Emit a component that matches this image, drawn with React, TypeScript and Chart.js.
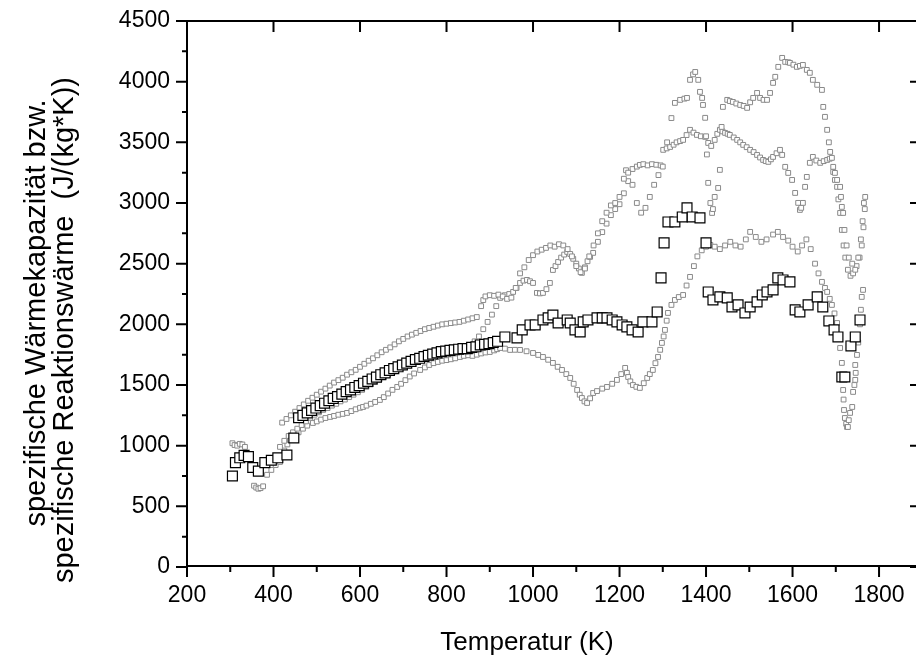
import React, { useEffect, useRef } from "react";
import { Chart, registerables } from "chart.js";

Chart.register(...registerables);

// ---------- tick labels ----------
const xTickValues = [200, 400, 600, 800, 1000, 1200, 1400, 1600, 1800];
const yTickValues = [0, 500, 1000, 1500, 2000, 2500, 3000, 3500, 4000, 4500];
const xTitle = "Temperatur (K)";
const yTitleLines = ["spezifische Wärmekapazität bzw.", "spezifische Reaktionswärme  (J/(kg*K))"];

// ---------- series: large open squares (black) ----------
const blackSeries: [number, number][] = [
  [305, 750], [312, 860], [322, 900], [332, 920], [342, 910], [352, 820], [365, 790], [380, 860],
  [395, 880], [410, 900], [431, 923], [447, 1063], [458, 1230], [468, 1250], [478, 1270], [488, 1290],
  [498, 1310], [508, 1330], [518, 1350], [528, 1370], [538, 1390], [548, 1405], [558, 1425], [568, 1445],
  [578, 1460], [588, 1480], [598, 1495], [608, 1515], [618, 1530], [628, 1550], [638, 1565], [648, 1585],
  [658, 1600], [668, 1620], [678, 1635], [688, 1650], [698, 1665], [708, 1680], [718, 1695], [728, 1710],
  [738, 1720], [748, 1735], [758, 1745], [768, 1755], [778, 1765], [788, 1775], [798, 1780], [808, 1785],
  [818, 1790], [828, 1795], [838, 1800], [848, 1800], [858, 1810], [868, 1815], [878, 1830], [888, 1835],
  [898, 1840], [908, 1850], [918, 1860], [935, 1896], [963, 1888], [975, 1954], [993, 1995], [1005, 1995],
  [1023, 2036], [1035, 2053], [1046, 2077], [1058, 2011], [1079, 2036], [1086, 2011], [1097, 1954], [1109, 1937],
  [1116, 2020], [1127, 2036], [1148, 2053], [1160, 2053], [1171, 2053], [1183, 2036], [1194, 2020], [1206, 1995],
  [1217, 1979], [1229, 1954], [1243, 1937], [1254, 2020], [1275, 2020], [1287, 2102], [1296, 2383], [1303, 2671],
  [1312, 2844], [1328, 2844], [1345, 2885], [1356, 2960], [1368, 2885], [1386, 2877], [1400, 2671], [1405, 2267],
  [1416, 2201], [1432, 2226], [1449, 2218], [1460, 2143], [1474, 2160], [1490, 2094], [1502, 2143], [1518, 2185],
  [1530, 2242], [1541, 2267], [1555, 2284], [1566, 2383], [1578, 2366], [1594, 2350], [1606, 2119], [1617, 2102],
  [1636, 2160], [1657, 2226], [1670, 2143], [1684, 2028], [1696, 1954], [1705, 1896], [1714, 1566], [1721, 1566],
  [1735, 1822], [1745, 1896], [1756, 2036],
];

// ---------- series: small grey squares, upper run ----------
const upperRun: [number, number][] = [
  [420, 1190], [430, 1220], [440, 1250], [450, 1280], [460, 1310], [470, 1340], [480, 1370], [490, 1395],
  [500, 1420], [510, 1445], [520, 1470], [530, 1495], [540, 1520], [550, 1540], [560, 1560], [570, 1585],
  [580, 1605], [590, 1625], [600, 1650], [610, 1675], [620, 1700], [630, 1720], [640, 1745], [650, 1770],
  [660, 1790], [670, 1810], [680, 1835], [690, 1860], [700, 1880], [710, 1900], [720, 1915], [730, 1930],
  [740, 1945], [750, 1960], [760, 1970], [770, 1980], [780, 1990], [790, 2000], [800, 2005], [810, 2010],
  [820, 2015], [830, 2020], [840, 2030], [850, 2040], [860, 2050], [870, 2060], [880, 2150], [885, 2200],
  [890, 2230], [900, 2240], [910, 2235], [920, 2245], [930, 2230], [940, 2210], [950, 2220], [960, 2300],
  [970, 2420], [980, 2470], [990, 2530], [1000, 2570], [1010, 2600], [1020, 2615], [1030, 2630], [1040, 2650],
  [1050, 2640], [1060, 2660], [1070, 2650], [1080, 2620], [1090, 2560], [1100, 2480], [1110, 2430], [1120, 2460],
  [1130, 2560], [1140, 2650], [1150, 2750], [1160, 2850], [1170, 2920], [1180, 2980], [1190, 3000], [1200, 3050],
  [1210, 3200], [1215, 3270], [1220, 3250], [1230, 3150], [1240, 3000], [1250, 2920], [1260, 2960], [1270, 3050],
  [1280, 3150], [1290, 3230], [1300, 3300], [1310, 3500], [1320, 3700], [1328, 3825], [1340, 3850], [1350, 3860],
  [1356, 3866], [1363, 4015], [1370, 4060], [1375, 4080], [1382, 4015], [1386, 3916], [1391, 3866], [1393, 3808],
  [1398, 3702], [1400, 3550], [1402, 3400], [1405, 3166], [1410, 3000], [1414, 2918], [1416, 2950], [1420, 3050],
  [1428, 3124], [1432, 3273], [1436, 3627], [1439, 3792], [1449, 3850], [1455, 3840], [1462, 3833], [1470, 3820],
  [1479, 3808], [1487, 3800], [1495, 3784], [1502, 3830], [1509, 3866], [1518, 3907], [1525, 3866], [1533, 3850],
  [1541, 3850], [1548, 3907], [1555, 3990], [1560, 4040], [1567, 4122], [1576, 4196], [1583, 4163], [1590, 4160],
  [1594, 4155], [1602, 4140], [1610, 4122], [1617, 4130], [1624, 4138], [1633, 4097], [1640, 4073], [1647, 4015],
  [1657, 3974], [1668, 3932], [1671, 3792], [1675, 3710], [1680, 3603], [1684, 3500], [1687, 3421], [1694, 3298],
  [1698, 3248], [1703, 3190], [1710, 3133], [1712, 3050], [1714, 2968], [1717, 2918], [1720, 2778], [1725, 2650],
  [1730, 2550], [1738, 2500], [1745, 2450], [1752, 2550], [1758, 2700], [1762, 2850], [1765, 3000], [1768, 3050],
];

// ---------- series: small grey squares, middle run ----------
const middleRun: [number, number][] = [
  [415, 990], [425, 1040], [435, 1080], [445, 1110], [455, 1140], [465, 1170], [475, 1200], [485, 1230],
  [495, 1255], [505, 1275], [515, 1295], [525, 1310], [535, 1330], [545, 1345], [555, 1365], [565, 1380],
  [575, 1400], [585, 1420], [595, 1440], [605, 1460], [615, 1485], [625, 1505], [635, 1525], [645, 1545],
  [655, 1565], [665, 1585], [675, 1605], [685, 1625], [695, 1645], [705, 1665], [715, 1680], [725, 1695],
  [735, 1710], [745, 1725], [755, 1740], [765, 1750], [775, 1760], [785, 1770], [795, 1775], [805, 1780],
  [815, 1785], [825, 1790], [835, 1800], [845, 1810], [855, 1830], [865, 1860], [875, 1900], [885, 1960],
  [895, 2020], [905, 2080], [915, 2150], [924, 2218], [935, 2240], [945, 2250], [954, 2267], [962, 2300],
  [970, 2341], [978, 2360], [986, 2366], [993, 2355], [1000, 2341], [1009, 2259], [1016, 2255], [1023, 2259],
  [1031, 2290], [1039, 2341], [1046, 2448], [1052, 2480], [1058, 2514], [1065, 2550], [1072, 2575], [1079, 2597],
  [1086, 2580], [1093, 2540], [1100, 2500], [1106, 2460], [1113, 2424], [1120, 2470], [1126, 2520], [1132, 2556],
  [1139, 2589], [1150, 2680], [1160, 2760], [1170, 2830], [1180, 2900], [1190, 2950], [1200, 2990], [1210, 3080],
  [1220, 3180], [1230, 3280], [1240, 3300], [1247, 3314], [1255, 3320], [1265, 3310], [1275, 3320], [1285, 3315],
  [1295, 3310], [1301, 3438], [1309, 3450], [1317, 3462], [1325, 3480], [1332, 3500], [1340, 3510], [1347, 3520],
  [1355, 3560], [1363, 3603], [1371, 3580], [1379, 3561], [1388, 3550], [1398, 3545], [1405, 3495], [1412, 3470],
  [1420, 3520], [1426, 3570], [1432, 3603], [1438, 3590], [1444, 3578], [1450, 3570], [1455, 3561], [1464, 3540],
  [1472, 3520], [1479, 3500], [1486, 3479], [1494, 3460], [1502, 3438], [1510, 3420], [1518, 3396], [1525, 3375],
  [1532, 3355], [1538, 3345], [1544, 3339], [1550, 3360], [1555, 3380], [1563, 3410], [1571, 3438], [1576, 3396],
  [1583, 3298], [1590, 3248], [1599, 3190], [1606, 3083], [1613, 3001], [1617, 2943], [1620, 2960], [1624, 3001],
  [1629, 3133], [1633, 3215], [1640, 3331], [1647, 3380], [1655, 3350], [1664, 3331], [1672, 3345], [1680, 3355],
  [1686, 3365], [1691, 3372], [1694, 3256], [1698, 3190], [1703, 3133], [1706, 3030], [1710, 2918], [1714, 2778],
  [1718, 2650], [1722, 2550], [1728, 2450], [1734, 2400], [1740, 2420], [1748, 2480], [1755, 2550], [1760, 2650],
  [1764, 2800], [1767, 2950],
];

// ---------- series: small grey squares, lower run ----------
const lowerRun: [number, number][] = [
  [305, 1020], [310, 1005], [316, 1000], [322, 1015], [328, 1010], [334, 990],
  [355, 670], [360, 655], [365, 645], [370, 650], [376, 665],
  [385, 760], [395, 800], [405, 840], [415, 866], [425, 960], [432, 1010], [438, 1047], [448, 1080],
  [458, 1110], [468, 1140], [478, 1165], [491, 1187], [500, 1200], [510, 1215], [520, 1228], [531, 1237],
  [540, 1245], [550, 1255], [560, 1262], [570, 1270], [580, 1285], [590, 1300], [600, 1312], [607, 1319],
  [615, 1330], [625, 1345], [635, 1360], [646, 1377], [655, 1400], [665, 1430], [675, 1460], [686, 1484],
  [695, 1510], [705, 1540], [715, 1570], [725, 1595], [739, 1624], [750, 1645], [760, 1665], [770, 1680],
  [780, 1690], [790, 1700], [800, 1705], [810, 1712], [820, 1720], [831, 1731], [840, 1740], [850, 1745],
  [860, 1740], [870, 1750], [880, 1760], [890, 1768], [900, 1772], [910, 1785], [917, 1795], [924, 1805],
  [935, 1800], [947, 1789], [958, 1790], [970, 1789], [985, 1778], [1000, 1764], [1012, 1748], [1023, 1731],
  [1035, 1708], [1046, 1682], [1057, 1650], [1067, 1624], [1077, 1590], [1086, 1558], [1094, 1510], [1102, 1459],
  [1108, 1420], [1113, 1393], [1119, 1365], [1125, 1352], [1132, 1390], [1139, 1434], [1148, 1450], [1160, 1470],
  [1171, 1484], [1183, 1510], [1194, 1542], [1204, 1590], [1213, 1641], [1217, 1600], [1220, 1566], [1225, 1530],
  [1231, 1500], [1239, 1485], [1247, 1476], [1256, 1515], [1264, 1558], [1270, 1590], [1277, 1624], [1283, 1680],
  [1289, 1731], [1294, 1790], [1298, 1847], [1302, 1900], [1305, 1954], [1309, 2030], [1312, 2094], [1320, 2160],
  [1328, 2201], [1337, 2225], [1347, 2242], [1355, 2320], [1363, 2391], [1372, 2480], [1380, 2560], [1390, 2610],
  [1400, 2640], [1410, 2655], [1420, 2640], [1432, 2620], [1444, 2650], [1456, 2680], [1468, 2650], [1480, 2640],
  [1492, 2700], [1502, 2762], [1515, 2720], [1528, 2680], [1540, 2700], [1555, 2740], [1566, 2762], [1578, 2720],
  [1590, 2690], [1600, 2640], [1612, 2600], [1622, 2650], [1632, 2700], [1642, 2620], [1652, 2500], [1660, 2420],
  [1668, 2350], [1675, 2300], [1680, 2267], [1686, 2210], [1691, 2160], [1697, 2090], [1703, 2011], [1706, 1900],
  [1710, 1805], [1714, 1682], [1716, 1560], [1717, 1459], [1718, 1380], [1719, 1294], [1721, 1228], [1724, 1180],
  [1726, 1154], [1728, 1154], [1730, 1210], [1733, 1270], [1738, 1319], [1740, 1443], [1743, 1500], [1745, 1542],
  [1746, 1600], [1745, 1665], [1749, 1748], [1752, 1850], [1756, 2000], [1758, 2120], [1760, 2226], [1763, 2284],
];

const toPoints = (arr: [number, number][]) => arr.map(([x, y]) => ({ x, y }));

const FONT = "'Liberation Sans', Arial, Helvetica, sans-serif";

const framePlugin = {
  id: "originFrame",
  afterDraw(chart: any) {
    const { ctx, chartArea, scales } = chart;
    const { left, right, top, bottom } = chartArea;
    const xs = scales.x;
    const ys = scales.y;
    ctx.save();
    ctx.strokeStyle = "#000";
    ctx.lineWidth = 2;
    ctx.lineCap = "butt";
    ctx.beginPath();
    ctx.moveTo(left, top); ctx.lineTo(right, top);
    ctx.moveTo(right, top); ctx.lineTo(right, bottom);
    ctx.moveTo(left, bottom - 1); ctx.lineTo(right, bottom - 1);
    ctx.moveTo(left, top); ctx.lineTo(left, bottom);
    ctx.stroke();
    const major = 11;
    const minor = 5;
    ctx.beginPath();
    xTickValues.forEach((v, i) => {
      const px = xs.getPixelForValue(v);
      ctx.moveTo(px, bottom); ctx.lineTo(px, bottom + major - 1);
      ctx.moveTo(px, top); ctx.lineTo(px, top + major);
      if (i < xTickValues.length - 1) {
        const mv = (v + xTickValues[i + 1]) / 2;
        const mpx = xs.getPixelForValue(mv);
        ctx.moveTo(mpx, bottom); ctx.lineTo(mpx, bottom + minor);
      }
    });
    yTickValues.forEach((v, i) => {
      const py = ys.getPixelForValue(v);
      ctx.moveTo(left, py); ctx.lineTo(left - major, py);
      ctx.moveTo(right, py); ctx.lineTo(right - major, py);
      if (i < yTickValues.length - 1) {
        const mv = (v + yTickValues[i + 1]) / 2;
        const mpy = ys.getPixelForValue(mv);
        ctx.moveTo(left, mpy); ctx.lineTo(left - minor, mpy);
      }
    });
    ctx.stroke();

    ctx.fillStyle = "#000";
    ctx.textAlign = "center";
    ctx.textBaseline = "alphabetic";
    ctx.font = `26px ${FONT}`;
    ctx.fillText(xTitle, 527, 650);

    ctx.font = `29px ${FONT}`;
    ctx.save();
    ctx.translate(45, 313);
    ctx.rotate(-Math.PI / 2);
    ctx.fillText(yTitleLines[0], 0, 0);
    ctx.restore();
    ctx.save();
    ctx.translate(73, 330);
    ctx.rotate(-Math.PI / 2);
    ctx.fillText(yTitleLines[1], 0, 0);
    ctx.restore();
    ctx.restore();
  },
};

export default function App() {
  const ref = useRef<HTMLCanvasElement | null>(null);
  useEffect(() => {
    if (!ref.current) return;
    const greyStyle = {
      pointStyle: "rect" as const,
      pointRadius: 3.4,
      borderColor: "#8a8a8a",
      backgroundColor: "#ffffff",
      borderWidth: 1,
      showLine: false,
    };
    const chart = new Chart(ref.current, {
      type: "scatter",
      data: {
        datasets: [
          {
            label: "Mittelwert",
            data: toPoints(blackSeries),
            pointStyle: "rect",
            pointRadius: 7,
            borderColor: "#000000",
            backgroundColor: "#ffffff",
            borderWidth: 1.2,
            showLine: false,
          },
          { label: "Messung 1", data: toPoints(upperRun), ...greyStyle },
          { label: "Messung 2", data: toPoints(middleRun), ...greyStyle },
          { label: "Messung 3", data: toPoints(lowerRun), ...greyStyle },
        ],
      },
      options: {
        animation: false,
        responsive: false,
        devicePixelRatio: 1,
        layout: { padding: { left: 0, top: 21, right: 9, bottom: 0 } },
        plugins: { legend: { display: false }, tooltip: { enabled: false } },
        scales: {
          x: {
            type: "linear",
            min: 200,
            max: 1897,
            grid: { display: false, drawTicks: false },
            border: { display: false },
            afterBuildTicks: (s: any) => {
              s.ticks = xTickValues.map((v) => ({ value: v }));
            },
            afterFit: (s: any) => {
              s.height = 91;
              s.paddingLeft = 0;
              s.paddingRight = 0;
            },
            ticks: {
              padding: 15,
              maxRotation: 0,
              autoSkip: false,
              color: "#000",
              font: { family: FONT, size: 23 },
              callback: (v: any) => String(v),
            },
          },
          y: {
            type: "linear",
            min: 0,
            max: 4500,
            grid: { display: false, drawTicks: false },
            border: { display: false },
            afterBuildTicks: (s: any) => {
              s.ticks = yTickValues.map((v) => ({ value: v }));
            },
            afterFit: (s: any) => {
              s.width = 187;
              s.paddingTop = 0;
              s.paddingBottom = 0;
            },
            ticks: {
              padding: 17,
              autoSkip: false,
              color: "#000",
              font: { family: FONT, size: 23 },
              callback: (v: any) => String(v),
            },
          },
        },
      },
      plugins: [framePlugin],
    });
    return () => chart.destroy();
  }, []);

  return (
    <div
      style={{
        position: "fixed",
        left: 0,
        top: 0,
        width: 916,
        height: 658,
        overflow: "hidden",
        background: "#fff",
      }}
    >
      <canvas
        ref={ref}
        width={930}
        height={658}
        style={{ position: "absolute", left: 0, top: 0, width: 930, height: 658 }}
      />
    </div>
  );
}
